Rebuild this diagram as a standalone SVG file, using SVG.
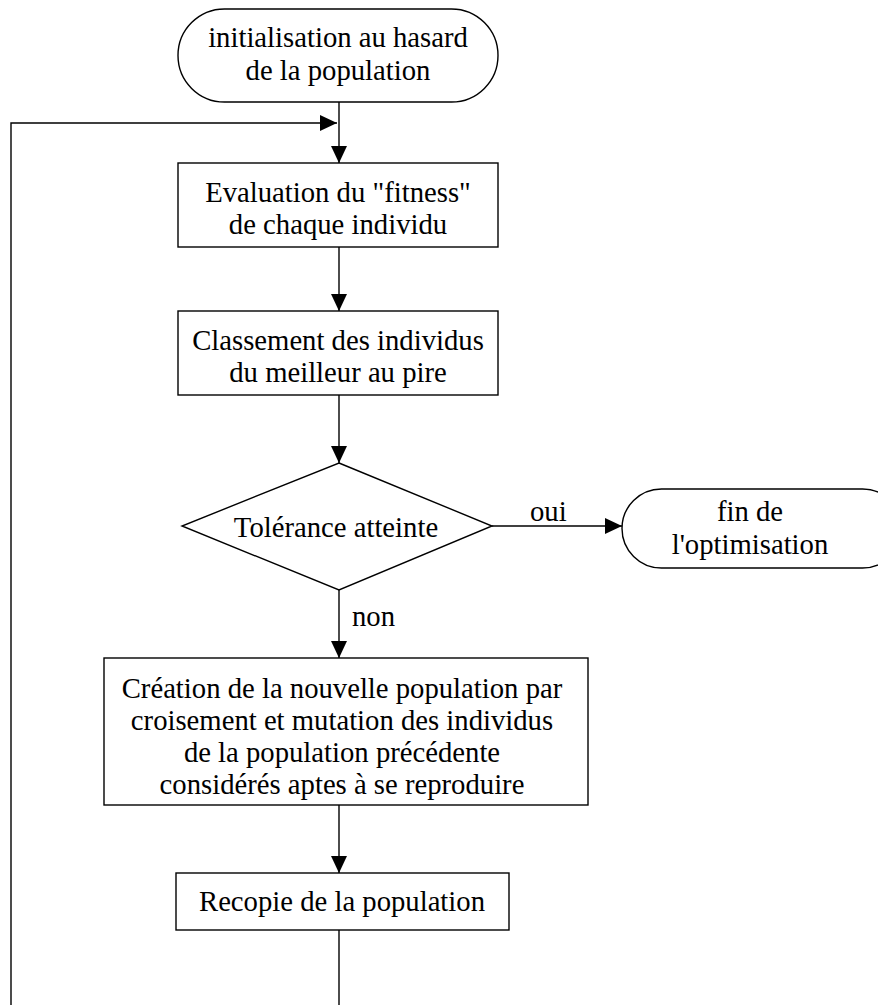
<svg xmlns="http://www.w3.org/2000/svg" width="878" height="1005" viewBox="0 0 878 1005">
<style>
.s{fill:#fff;stroke:#000;stroke-width:1.4}
.c{fill:none;stroke:#000;stroke-width:1.4}
text{font-family:"Liberation Serif","Times New Roman",serif;font-size:28.7px;fill:#000;text-anchor:middle}
.l{text-anchor:start}
</style>
<defs>
<marker id="a" markerWidth="18" markerHeight="16" refX="17" refY="8" orient="auto" markerUnits="userSpaceOnUse">
<path d="M0,0 L17,8 L0,16 Z" fill="#000"/>
</marker>
</defs>
<rect width="878" height="1005" fill="#fff"/>
<g id="connectors">
<line class="c" x1="339" y1="102" x2="339" y2="163" marker-end="url(#a)"/>
<polyline class="c" points="11,1005 11,123 337,123" marker-end="url(#a)"/>
<line class="c" x1="339" y1="247" x2="339" y2="311" marker-end="url(#a)"/>
<line class="c" x1="339" y1="395" x2="339" y2="463" marker-end="url(#a)"/>
<line class="c" x1="492" y1="526" x2="622" y2="526" marker-end="url(#a)"/>
<line class="c" x1="339" y1="590" x2="339" y2="658" marker-end="url(#a)"/>
<line class="c" x1="339" y1="805" x2="339" y2="873" marker-end="url(#a)"/>
<line class="c" x1="339" y1="930" x2="339" y2="1005"/>
<text class="l" x="530" y="521">oui</text>
<text class="l" x="352" y="626">non</text>
</g>
<g id="start">
<rect class="s" x="178" y="9" width="320" height="93" rx="46.5" ry="46.5"/>
<text x="338" y="47">initialisation au hasard</text>
<text x="338" y="80">de la population</text>
</g>
<g id="evaluation">
<rect class="s" x="178" y="163" width="320" height="84"/>
<text x="338" y="202">Evaluation du "fitness"</text>
<text x="338" y="234">de chaque individu</text>
</g>
<g id="classement">
<rect class="s" x="178" y="311" width="320" height="84"/>
<text x="338" y="350">Classement des individus</text>
<text x="338" y="382">du meilleur au pire</text>
</g>
<g id="tolerance">
<polygon class="s" points="339,463 492,526 339,590 182,526"/>
<text x="336" y="537">Tolérance atteinte</text>
</g>
<g id="fin">
<rect class="s" x="622" y="489" width="280" height="79" rx="39.5" ry="39.5"/>
<text x="750" y="521">fin de</text>
<text x="750" y="554">l'optimisation</text>
</g>
<g id="creation">
<rect class="s" x="104" y="658" width="484" height="147"/>
<text x="342" y="698">Création de la nouvelle population par</text>
<text x="342" y="730">croisement et mutation des individus</text>
<text x="342" y="762">de la population précédente</text>
<text x="342" y="794">considérés aptes à se reproduire</text>
</g>
<g id="recopie">
<rect class="s" x="176" y="873" width="333" height="57"/>
<text x="342" y="911">Recopie de la population</text>
</g>
</svg>
